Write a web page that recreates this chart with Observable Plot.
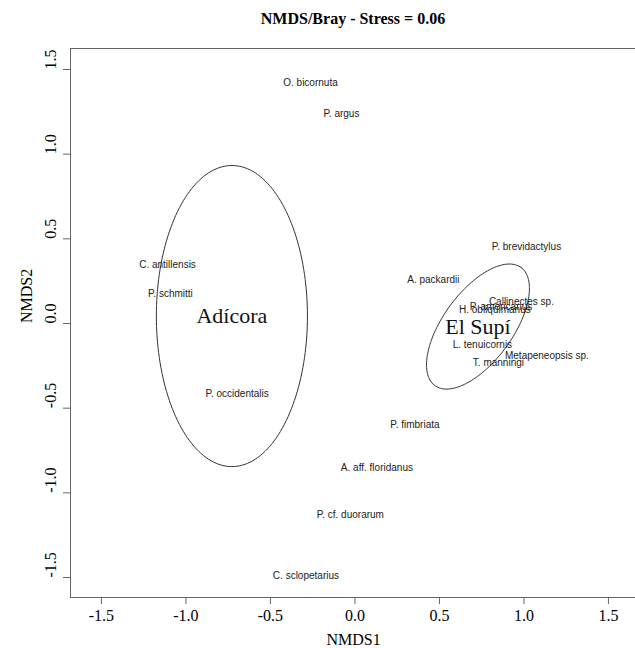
<!DOCTYPE html>
<html><head><meta charset="utf-8">
<script src="https://cdn.jsdelivr.net/npm/d3@7"></script>
<script src="https://cdn.jsdelivr.net/npm/@observablehq/plot@0.6"></script>
<style>
html,body{margin:0;padding:0;background:#fff;overflow:hidden;width:635px;height:648px}
#title{position:relative;height:30px;width:635px}
#title span{position:absolute;left:353px;top:11px;transform:translateX(-50%);font:bold 16px/16px "Liberation Serif","Times New Roman",serif;white-space:nowrap;color:#000}
#chart svg{max-width:none !important;overflow:hidden}
</style></head><body>
<div id="title"><span>NMDS/Bray - Stress = 0.06</span></div>
<div id="chart"></div>
<script>
// Species scores (NMDS1, NMDS2)
const species = ["O. bicornuta","P. argus","C. antillensis","P. schmitti","P. occidentalis",
  "P. brevidactylus","A. packardii","Callinectes sp.","H. obliquimanus","P. americanus",
  "L. tenuicornis","T. manningi","Metapeneopsis sp.","P. fimbriata","A. aff. floridanus",
  "P. cf. duorarum","C. sclopetarius"];
const speciesX = [-0.263,-0.080,-1.109,-1.092,-0.697, 1.015,0.464,0.985,0.828,0.864, 0.754,0.849,1.136,0.355,0.130, -0.027,-0.290];
const speciesY = [ 1.419, 1.239, 0.348, 0.177,-0.413, 0.455,0.260,0.127,0.080,0.100, -0.124,-0.230,-0.189,-0.597,-0.855, -1.128,-1.488];

// Group ellipses (ordiellipse): centre, semi-axes, angle of major axis (degrees)
const groups = ["Adícora","El Supí"];
const groupX = [-0.728, 0.728];
const groupY = [0.044, -0.018];
const groupMajor = [0.889, 0.432];
const groupMinor = [0.447, 0.206];
const groupAngle = [90, 53.8];

const xTicks = [-1.5,-1,-0.5,0,0.5,1,1.5];
const xTickLabels = ["-1.5","-1.0","-0.5","0.0","0.5","1.0","1.5"];
const yTicks = [-1.5,-1,-0.5,0,0.5,1,1.5];
const yTickLabels = ["-1.5","-1.0","-0.5","0.0","0.5","1.0","1.5"];

const ellipsePts = [];
groups.forEach((g, k) => {
  const th = groupAngle[k] * Math.PI / 180;
  for (let d = 0; d <= 360; d += 2) {
    const t = d * Math.PI / 180;
    const u = groupMajor[k] * Math.cos(t), v = groupMinor[k] * Math.sin(t);
    ellipsePts.push({group: g, x: groupX[k] + u*Math.cos(th) - v*Math.sin(th), y: groupY[k] + u*Math.sin(th) + v*Math.cos(th)});
  }
});

const serif = "Liberation Serif, Times New Roman, serif";
const sans = "Liberation Sans, Arial, Helvetica, sans-serif";

const chart = Plot.plot({
  width: 637, height: 618,
  marginLeft: 70, marginRight: 1, marginTop: 18, marginBottom: 51,
  style: {background: "#fff", maxWidth: "none", overflow: "hidden"},
  x: {domain: [-1.683, 1.666]},
  y: {domain: [-1.618, 1.624]},
  marks: [
    Plot.frame({stroke: "#666", strokeWidth: 1}),
    Plot.axisX({ticks: xTicks, tickSize: 7, tickFormat: () => "", label: null, stroke: "#666"}),
    Plot.axisY({ticks: yTicks, tickSize: 7, tickFormat: () => "", label: null, stroke: "#666"}),
    Plot.text(xTicks, {x: d => d, text: (d, i) => xTickLabels[i], frameAnchor: "bottom", dy: 23, lineAnchor: "bottom", fontSize: 16, fontFamily: serif, fill: "#000"}),
    Plot.text(yTicks, {y: d => d, text: (d, i) => yTickLabels[i], frameAnchor: "left", dx: -14.5, rotate: -90, lineAnchor: "bottom", fontSize: 16, fontFamily: serif, fill: "#000"}),
    Plot.text(["NMDS1"], {text: d => d, frameAnchor: "bottom", dy: 47, lineAnchor: "bottom", fontSize: 16, fontFamily: serif, fill: "#000"}),
    Plot.text(["NMDS2"], {text: d => d, frameAnchor: "left", dx: -38.5, rotate: -90, lineAnchor: "bottom", fontSize: 16, fontFamily: serif, fill: "#000"}),
    Plot.line(ellipsePts, {x: "x", y: "y", z: "group", stroke: "#333", strokeWidth: 1}),
    Plot.text(species, {x: (d, i) => speciesX[i], y: (d, i) => speciesY[i], text: d => d, fontSize: 10, fontFamily: sans, fill: "#222", lineAnchor: "middle"}),
    Plot.text(groups, {x: (d, i) => groupX[i], y: (d, i) => groupY[i], text: d => d, fontSize: 22, fontFamily: serif, fill: "#111", lineAnchor: "middle"})
  ]
});
document.getElementById("chart").appendChild(chart);
</script>
</body></html>
